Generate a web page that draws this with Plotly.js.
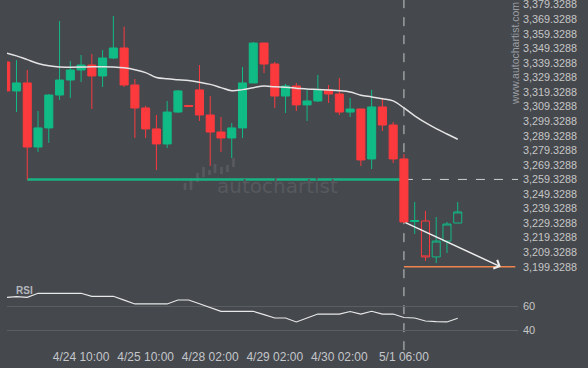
<!DOCTYPE html>
<html>
<head>
<meta charset="utf-8">
<script src="https://cdn.plot.ly/plotly-3.0.1.min.js"></script>
<style>html,body{margin:0;padding:0;background:#45484d;}#chart{width:588px;height:368px;}</style>
</head>
<body>
<div id="chart"></div>
<script>
// ---------------- DATA ----------------
const candleOpen  = [3340.0,3320.1,3325.6,3281.6,3294.7,3317.3,3327.6,3334.5,3337.9,3330.4,3342.7,3349.6,3324.2,3308.4,3294.0,3283.7,3305.6,3310.1,3320.8,3303.6,3291.9,3287.8,3294.7,3325.6,3353.0,3338.6,3316.6,3323.5,3310.5,3313.2,3320.8,3318.0,3305.6,3307.7,3273.4,3309.1,3296.7,3273.4,3230.4,3230.8,3206.1,3217.0,3229.4];
const candleHigh  = [3341.3,3341.3,3334.5,3306.3,3318.0,3368.1,3340.7,3344.8,3345.5,3348.2,3371.6,3364.2,3328.3,3309.8,3303.6,3313.2,3320.8,3310.2,3337.9,3316.6,3302.2,3298.1,3336.5,3353.7,3353.2,3340.0,3324.9,3325.6,3320.8,3331.1,3324.2,3329.0,3315.3,3307.9,3320.8,3315.3,3298.8,3276.8,3243.8,3237.7,3233.5,3230.1,3243.8];
const candleLow   = [3318.7,3305.6,3259.3,3278.2,3284.4,3313.9,3315.3,3326.2,3307.7,3322.8,3342.0,3322.8,3287.8,3287.8,3265.8,3280.9,3305.0,3309.3,3299.5,3268.6,3278.2,3274.0,3287.8,3325.6,3332.4,3308.4,3305.0,3306.3,3299.5,3312.5,3311.8,3303.6,3302.2,3268.6,3266.5,3292.6,3270.6,3229.4,3221.9,3203.3,3201.9,3208.8,3229.4];
const candleClose = [3320.1,3325.6,3281.6,3294.7,3317.3,3327.6,3334.5,3337.9,3330.4,3342.7,3349.6,3324.2,3308.4,3294.0,3283.7,3305.6,3320.1,3309.4,3303.6,3291.9,3287.8,3294.7,3325.6,3353.0,3338.6,3316.6,3323.5,3310.5,3313.2,3320.8,3318.0,3305.6,3307.7,3272.7,3309.1,3296.7,3273.4,3230.1,3231.1,3206.1,3217.0,3228.7,3237.0];
const movingAvg   = [3346.2,3344.2,3341.6,3339.0,3337.4,3336.5,3336.4,3336.5,3336.7,3336.8,3336.6,3336.0,3334.7,3332.7,3329.3,3328.4,3327.8,3327.2,3326.1,3324.6,3322.4,3320.2,3321.0,3322.3,3323.5,3322.9,3322.6,3322.0,3321.4,3321.1,3320.7,3320.3,3319.4,3317.2,3316.0,3314.7,3313.3,3308.4,3303.0,3298.3,3294.2,3290.5,3286.9];
const rsiValues   = [67.2,67.8,67.2,70.6,70.6,70.6,70.6,70.6,68.1,68.1,68.1,64.9,61.7,61.7,61.7,61.7,65.0,65.0,61.9,58.8,55.6,55.6,55.6,55.6,52.8,50.0,50.0,46.7,50.0,53.3,53.3,53.3,55.4,53.3,55.6,53.3,53.3,50.4,50.0,47.5,47.0,46.7,49.8];
const projectedFrom = 38;            // first hollow (projected) candle
const tickIdx    = [7,13,19,25,31,37];
const tickLabels = ['4/24 10:00','4/25 10:00','4/28 02:00','4/29 02:00','4/30 02:00','5/1 06:00'];
const priceTicks = [3199.3288,3209.3288,3219.3288,3229.3288,3239.3288,3249.3288,3259.3288,3269.3288,3279.3288,3289.3288,3299.3288,3309.3288,3319.3288,3329.3288,3339.3288,3349.3288,3359.3288,3369.3288,3379.3288];
const rsiTicks = [40,60];
const supportLevel = 3259.3288, supportStartIdx = 2, breakIdx = 37;
const targetLevel = 3199.3288, targetEndIdx = 46;

// ---------------- BUILD ----------------
const BG = '#45484d', UP = '#10bb85', DOWN = '#fb3a3e';
const idx = candleOpen.map((_, i) => i);
const sl = (a, s, e) => a.slice(s, e);
const fmt = v => v.toLocaleString('en-US', {minimumFractionDigits: 4, maximumFractionDigits: 4});

const traces = [
  {type:'candlestick', x: sl(idx,0,projectedFrom), open: sl(candleOpen,0,projectedFrom), high: sl(candleHigh,0,projectedFrom),
   low: sl(candleLow,0,projectedFrom), close: sl(candleClose,0,projectedFrom), xaxis:'x', yaxis:'y', whiskerwidth:0,
   increasing:{line:{color:UP,width:1}, fillcolor:UP}, decreasing:{line:{color:DOWN,width:1}, fillcolor:DOWN}, hoverinfo:'skip'},
  {type:'candlestick', x: sl(idx,projectedFrom), open: sl(candleOpen,projectedFrom), high: sl(candleHigh,projectedFrom),
   low: sl(candleLow,projectedFrom), close: sl(candleClose,projectedFrom), xaxis:'x', yaxis:'y', whiskerwidth:0,
   increasing:{line:{color:UP,width:1}, fillcolor:'rgba(0,0,0,0)'}, decreasing:{line:{color:DOWN,width:1}, fillcolor:'rgba(0,0,0,0)'}, hoverinfo:'skip'},
  {type:'scatter', mode:'lines', x: idx, y: movingAvg, xaxis:'x', yaxis:'y', line:{color:'#e4e4e4', width:1.5, shape:'spline'}, hoverinfo:'skip'},
  {type:'scatter', mode:'lines', x: idx, y: rsiValues, xaxis:'x', yaxis:'y2', line:{color:'#e8e8e8', width:1.2}, hoverinfo:'skip'}
];

const L = 7, W = 511, H = 345;
const pX = px => (px - L) / W, pY = py => (H - py) / H;
const logoBars = [[185,183,190],[191,178,190],[197.5,173,182],[203.5,167,177],[209.5,170,175],[215,164,173],[221.5,167,174],[227.5,165,172],[233.5,158,167]];

const shapes = logoBars.map(b => ({type:'rect', xref:'paper', yref:'paper', x0:pX(b[0]-1.4), x1:pX(b[0]+1.4), y0:pY(b[2]), y1:pY(b[1]),
  fillcolor:'#56595e', line:{width:0}, layer:'below'}));
shapes.push(
  {type:'line', xref:'x', yref:'y', x0:supportStartIdx, x1:breakIdx, y0:supportLevel, y1:supportLevel, line:{color:'#17b382', width:2.5}, layer:'below'},
  {type:'line', xref:'x', yref:'y', x0:breakIdx, x1:47.7, y0:supportLevel, y1:supportLevel, line:{color:'#d0d0d0', width:1, dash:'dash'}, layer:'below'},
  {type:'line', xref:'x', yref:'paper', x0:breakIdx, x1:breakIdx, y0:-0.015, y1:1, line:{color:'#c8c8c8', width:1, dash:'dash'}, layer:'below'},
  {type:'line', xref:'x', yref:'y', x0:breakIdx, x1:47.35, y0:targetLevel, y1:targetLevel, line:{color:'#ee8450', width:1.5}, layer:'below'}
);

const annotations = [
  {xref:'x', yref:'y', axref:'x', ayref:'y', x:targetEndIdx, y:targetLevel, ax:breakIdx, ay:candleClose[breakIdx], text:'', showarrow:true,
   arrowhead:4, arrowsize:1.2, arrowwidth:1.5, arrowcolor:'#eeeeee'},
  {xref:'paper', yref:'paper', x:pX(277.5), y:pY(186), text:'autochartist', showarrow:false, xanchor:'center', yanchor:'middle',
   font:{family:'DejaVu Sans', size:20, color:'#56595e'}},
  {xref:'paper', yref:'paper', x:pX(515), y:pY(54), text:'www.autochartist.com', showarrow:false, textangle:-90, xanchor:'center', yanchor:'middle',
   borderpad:0, font:{family:'Liberation Sans, Arial', size:10.5, color:'#9a9ea3'}},
  {xref:'paper', yref:'paper', x:pX(14), y:pY(290), text:'<b>RSI</b>', showarrow:false, xanchor:'left', yanchor:'middle',
   font:{family:'Liberation Sans, Arial', size:10, color:'#b3b7be'}}
];

const layout = {
  width:588, height:368, margin:{l:L, r:588-L-W, t:0, b:368-H, pad:0},
  paper_bgcolor:BG, plot_bgcolor:BG, showlegend:false,
  boxmode:'overlay', boxgap:0.25, boxgroupgap:0,
  xaxis:{range:[0.117, 47.6], rangeslider:{visible:false}, anchor:'y2', showgrid:false, zeroline:false, showline:false, ticks:'',
    tickmode:'array', tickvals:tickIdx, ticktext:tickLabels, ticklabelstandoff:3, tickfont:{family:'Liberation Sans, Arial', size:12, color:'#c3c6ca'}},
  yaxis:{domain:[0.1739,1], range:[3186.82, 3382.56], side:'right', showgrid:false, zeroline:false, showline:false, ticks:'',
    ticklabeloverflow:'allow', ticklabelstandoff:4,
    tickmode:'array', tickvals:priceTicks, ticktext:priceTicks.map(fmt), tickfont:{family:'Liberation Sans, Arial', size:10.8, color:'#c6c6c6'}},
  yaxis2:{domain:[0,0.1739], range:[27.5,77.5], side:'right', showgrid:true, gridcolor:'#5b5e63', gridwidth:1, zeroline:false, showline:false, ticks:'',
    ticklabelstandoff:4,
    tickmode:'array', tickvals:rsiTicks, tickfont:{family:'Liberation Sans, Arial', size:11, color:'#c6c6c6'}},
  shapes:shapes, annotations:annotations
};

Plotly.newPlot('chart', traces, layout, {staticPlot:true, displayModeBar:false});
</script>
</body>
</html>
